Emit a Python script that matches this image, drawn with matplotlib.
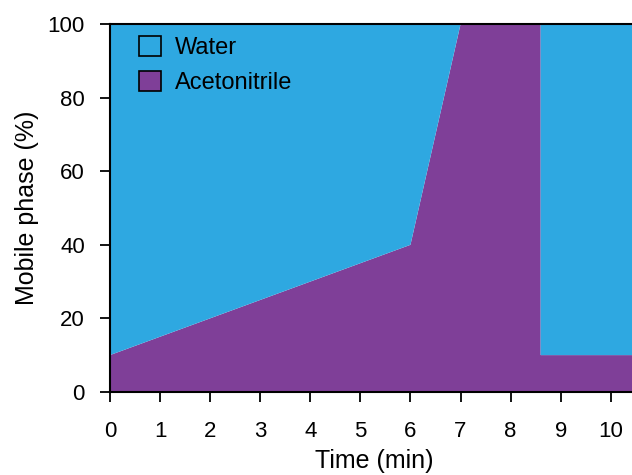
import numpy as np
import matplotlib.pyplot as plt
from matplotlib.patches import Patch

plt.rcParams['font.family'] = ['Liberation Sans', 'DejaVu Sans']

# gradient program
time = [0, 6, 7, 8.6, 8.6, 10.5]
acetonitrile = [10, 40, 100, 100, 10, 10]
water = [100 - v for v in acetonitrile]

c_water = "#2ea8e1"
c_acn = "#7f3f98"

fig = plt.figure(figsize=(6.32, 4.75), dpi=100)
ax = fig.add_axes([0.174, 0.175, 0.836, 0.774])

ax.stackplot(time, acetonitrile, water, colors=[c_acn, c_water], linewidth=0)

ax.set_xlim(0, 10.55)
ax.set_ylim(0, 100)
ax.set_xticks(range(0, 11))
ax.set_yticks(range(0, 101, 20))
ax.tick_params(axis="x", direction="out", length=7, width=1.3, labelsize=16, pad=14)
ax.tick_params(axis="y", direction="out", length=7, width=1.3, labelsize=16, pad=11)
for s in ["left", "bottom", "top"]:
    ax.spines[s].set_linewidth(1.5)
ax.spines["right"].set_visible(False)

ax.set_xlabel("Time (min)", fontsize=18, labelpad=5)
ax.set_ylabel("Mobile phase (%)", fontsize=18, labelpad=6)

handles = [Patch(facecolor=c_water, edgecolor="black", linewidth=1.2, label="Water"),
           Patch(facecolor=c_acn, edgecolor="black", linewidth=1.2, label="Acetonitrile")]
ax.legend(handles=handles, loc="upper left", frameon=False, fontsize=17,
          handlelength=0.93, handleheight=0.93, handletextpad=0.6,
          bbox_to_anchor=(0.015, 1.025), labelspacing=0.5)

fig.savefig("out.png", dpi=100)
